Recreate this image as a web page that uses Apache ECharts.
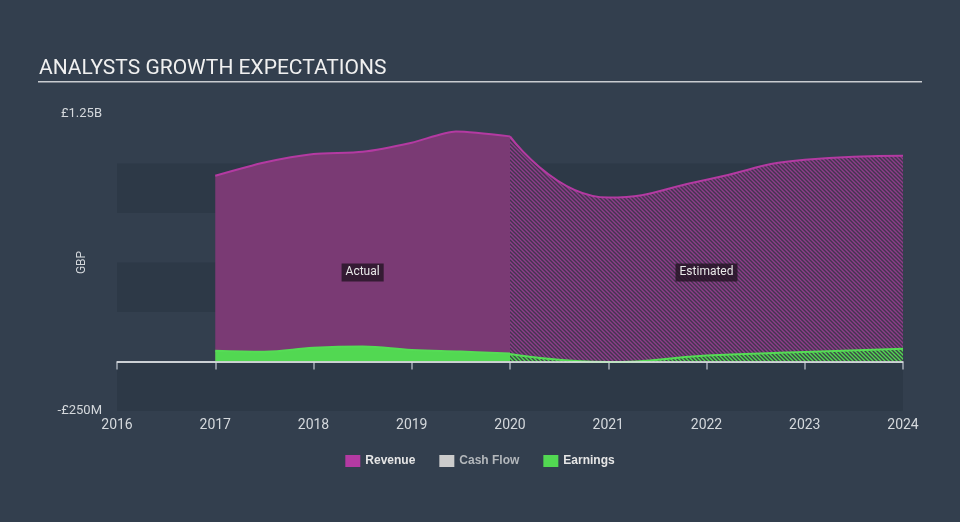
<!DOCTYPE html>
<html>
<head>
<meta charset="utf-8">
<script src="https://cdn.jsdelivr.net/npm/echarts@6/dist/echarts.min.js"></script>
<style>
  html, body { margin: 0; padding: 0; background: #333f4e; }
  #chart { width: 960px; height: 522px; }
</style>
</head>
<body>
<div id="chart"></div>
<script>
// values in billions of GBP, x in (fractional) years
var revenueActual = [[2017, 0.938], [2017.5, 1.005], [2018, 1.048], [2018.5, 1.059], [2019, 1.105], [2019.45, 1.162], [2020, 1.137]];
var revenueEstimated = [[2020, 1.137], [2021, 0.828], [2022, 0.918], [2023, 1.019], [2024, 1.039]];
var earningsActual = [[2017, 0.054], [2017.5, 0.049], [2018, 0.069], [2018.5, 0.076], [2019, 0.058], [2019.5, 0.050], [2020, 0.040]];
var earningsEstimated = [[2020, 0.038], [2021, -0.003], [2022, 0.030], [2023, 0.048], [2024, 0.064]];
var cashFlow = [];
var legendNames = ['Revenue', 'Cash Flow', 'Earnings'];
var yLabels = { '1.25': '£1.25B', '-0.25': '-£250M' };

// diagonal hatch for the estimated part
function hatch(bg, fg) {
	var c = document.createElement('canvas');
	c.width = c.height = 4;
	var g = c.getContext('2d');
	g.fillStyle = bg;
	g.fillRect(0, 0, 4, 4);
	g.strokeStyle = fg;
	g.lineWidth = 1.4;
	g.beginPath();
	g.moveTo(-1, -1); g.lineTo(5, 5);
	g.moveTo(-1, 3); g.lineTo(1, 5);
	g.moveTo(3, -1); g.lineTo(5, 1);
	g.stroke();
	return c;
}

var myChart = echarts.init(document.getElementById('chart'));
var option = {
	backgroundColor: '#333f4e',
	animation: false,
	textStyle: { fontFamily: 'Roboto' },
	graphic: [{
		type: 'text', left: 39, top: 58,
		style: { text: 'ANALYSTS GROWTH EXPECTATIONS', fill: '#f0f0f0', font: '21px Roboto' }
	}, {
		type: 'rect', left: 38, top: 81,
		shape: { width: 884, height: 1.5 },
		style: { fill: '#c9ccd0' }
	}],
	legend: {
		data: legendNames.map(function (n) {
			return n === 'Cash Flow' ? { name: n, textStyle: { color: '#b4b8bc' } } : n;
		}),
		top: 450,
		left: 'center',
		icon: 'rect',
		itemWidth: 15,
		itemHeight: 12,
		itemGap: 24,
		textStyle: { color: '#e6e6e6', fontSize: 12, fontWeight: 'bold', fontFamily: 'Liberation Sans' }
	},
	grid: { left: 117, right: 57, top: 114, bottom: 111 },
	xAxis: {
		type: 'value',
		min: 2016, max: 2024, interval: 1,
		axisLine: { lineStyle: { color: '#a3abb5', width: 1.5 } },
		axisTick: { show: true, length: 8, lineStyle: { color: '#a3abb5', width: 1.5 } },
		axisLabel: { color: '#d4d8dc', fontSize: 14, margin: 7, formatter: function (v) { return String(v); } },
		splitLine: { show: false }
	},
	yAxis: {
		type: 'value',
		min: -0.25, max: 1.25, interval: 0.25,
		name: 'GBP',
		nameLocation: 'middle',
		nameGap: 29,
		nameMoveOverlap: false,
		nameTextStyle: { color: '#d4d8dc', fontSize: 12 },
		axisLine: { show: false },
		axisTick: { show: false },
		splitLine: { show: false },
		splitArea: { show: true, areaStyle: { color: ['#2d3947', 'rgba(0,0,0,0)'] } },
		axisLabel: {
			color: '#d4d8dc', fontSize: 13, margin: 15,
			formatter: function (v) { return yLabels[String(v)] || ''; }
		}
	},
	series: [{
		name: 'Revenue',
		type: 'line',
		data: revenueActual,
		smooth: 0.25,
		showSymbol: false,
		itemStyle: { color: '#b43aa2' },
		lineStyle: { color: '#b43aa2', width: 2 },
		areaStyle: { color: '#7a3a74', opacity: 1 },
		markPoint: {
			symbolSize: 0,
			label: {
				show: true, position: 'inside', color: '#e8e8e8', fontSize: 12,
				backgroundColor: 'rgba(35,20,35,0.8)', padding: [3, 4]
			},
			data: [
				{ coord: [2018.5, 0.45], value: 'Actual' },
				{ coord: [2022, 0.45], value: 'Estimated' }
			]
		}
	}, {
		name: 'Revenue',
		type: 'line',
		data: revenueEstimated,
		smooth: 0.5,
		showSymbol: false,
		itemStyle: { color: '#b43aa2' },
		lineStyle: { color: '#b43aa2', width: 2 },
		areaStyle: { color: { image: hatch('#43354f', '#8d3d8a'), repeat: 'repeat' }, opacity: 1 }
	}, {
		name: 'Cash Flow',
		type: 'line',
		data: cashFlow,
		itemStyle: { color: '#cccccc' }
	}, {
		name: 'Earnings',
		type: 'line',
		data: earningsActual,
		smooth: 0.4,
		showSymbol: false,
		itemStyle: { color: '#52d852' },
		lineStyle: { color: '#55dc55', width: 2 },
		areaStyle: { color: '#52d852', opacity: 1 }
	}, {
		name: 'Earnings',
		type: 'line',
		data: earningsEstimated,
		smooth: 0.5,
		showSymbol: false,
		itemStyle: { color: '#52d852' },
		lineStyle: { color: '#55dc55', width: 2 },
		areaStyle: { color: { image: hatch('#3b4747', '#52d852'), repeat: 'repeat' }, opacity: 1 },
		markLine: {
			silent: true,
			symbol: 'none',
			label: { show: false },
			lineStyle: { color: '#e4e6e8', type: 'solid', width: 1.5 },
			data: [{ yAxis: 0 }]
		}
	}]
};
myChart.setOption(option);
</script>
</body>
</html>
